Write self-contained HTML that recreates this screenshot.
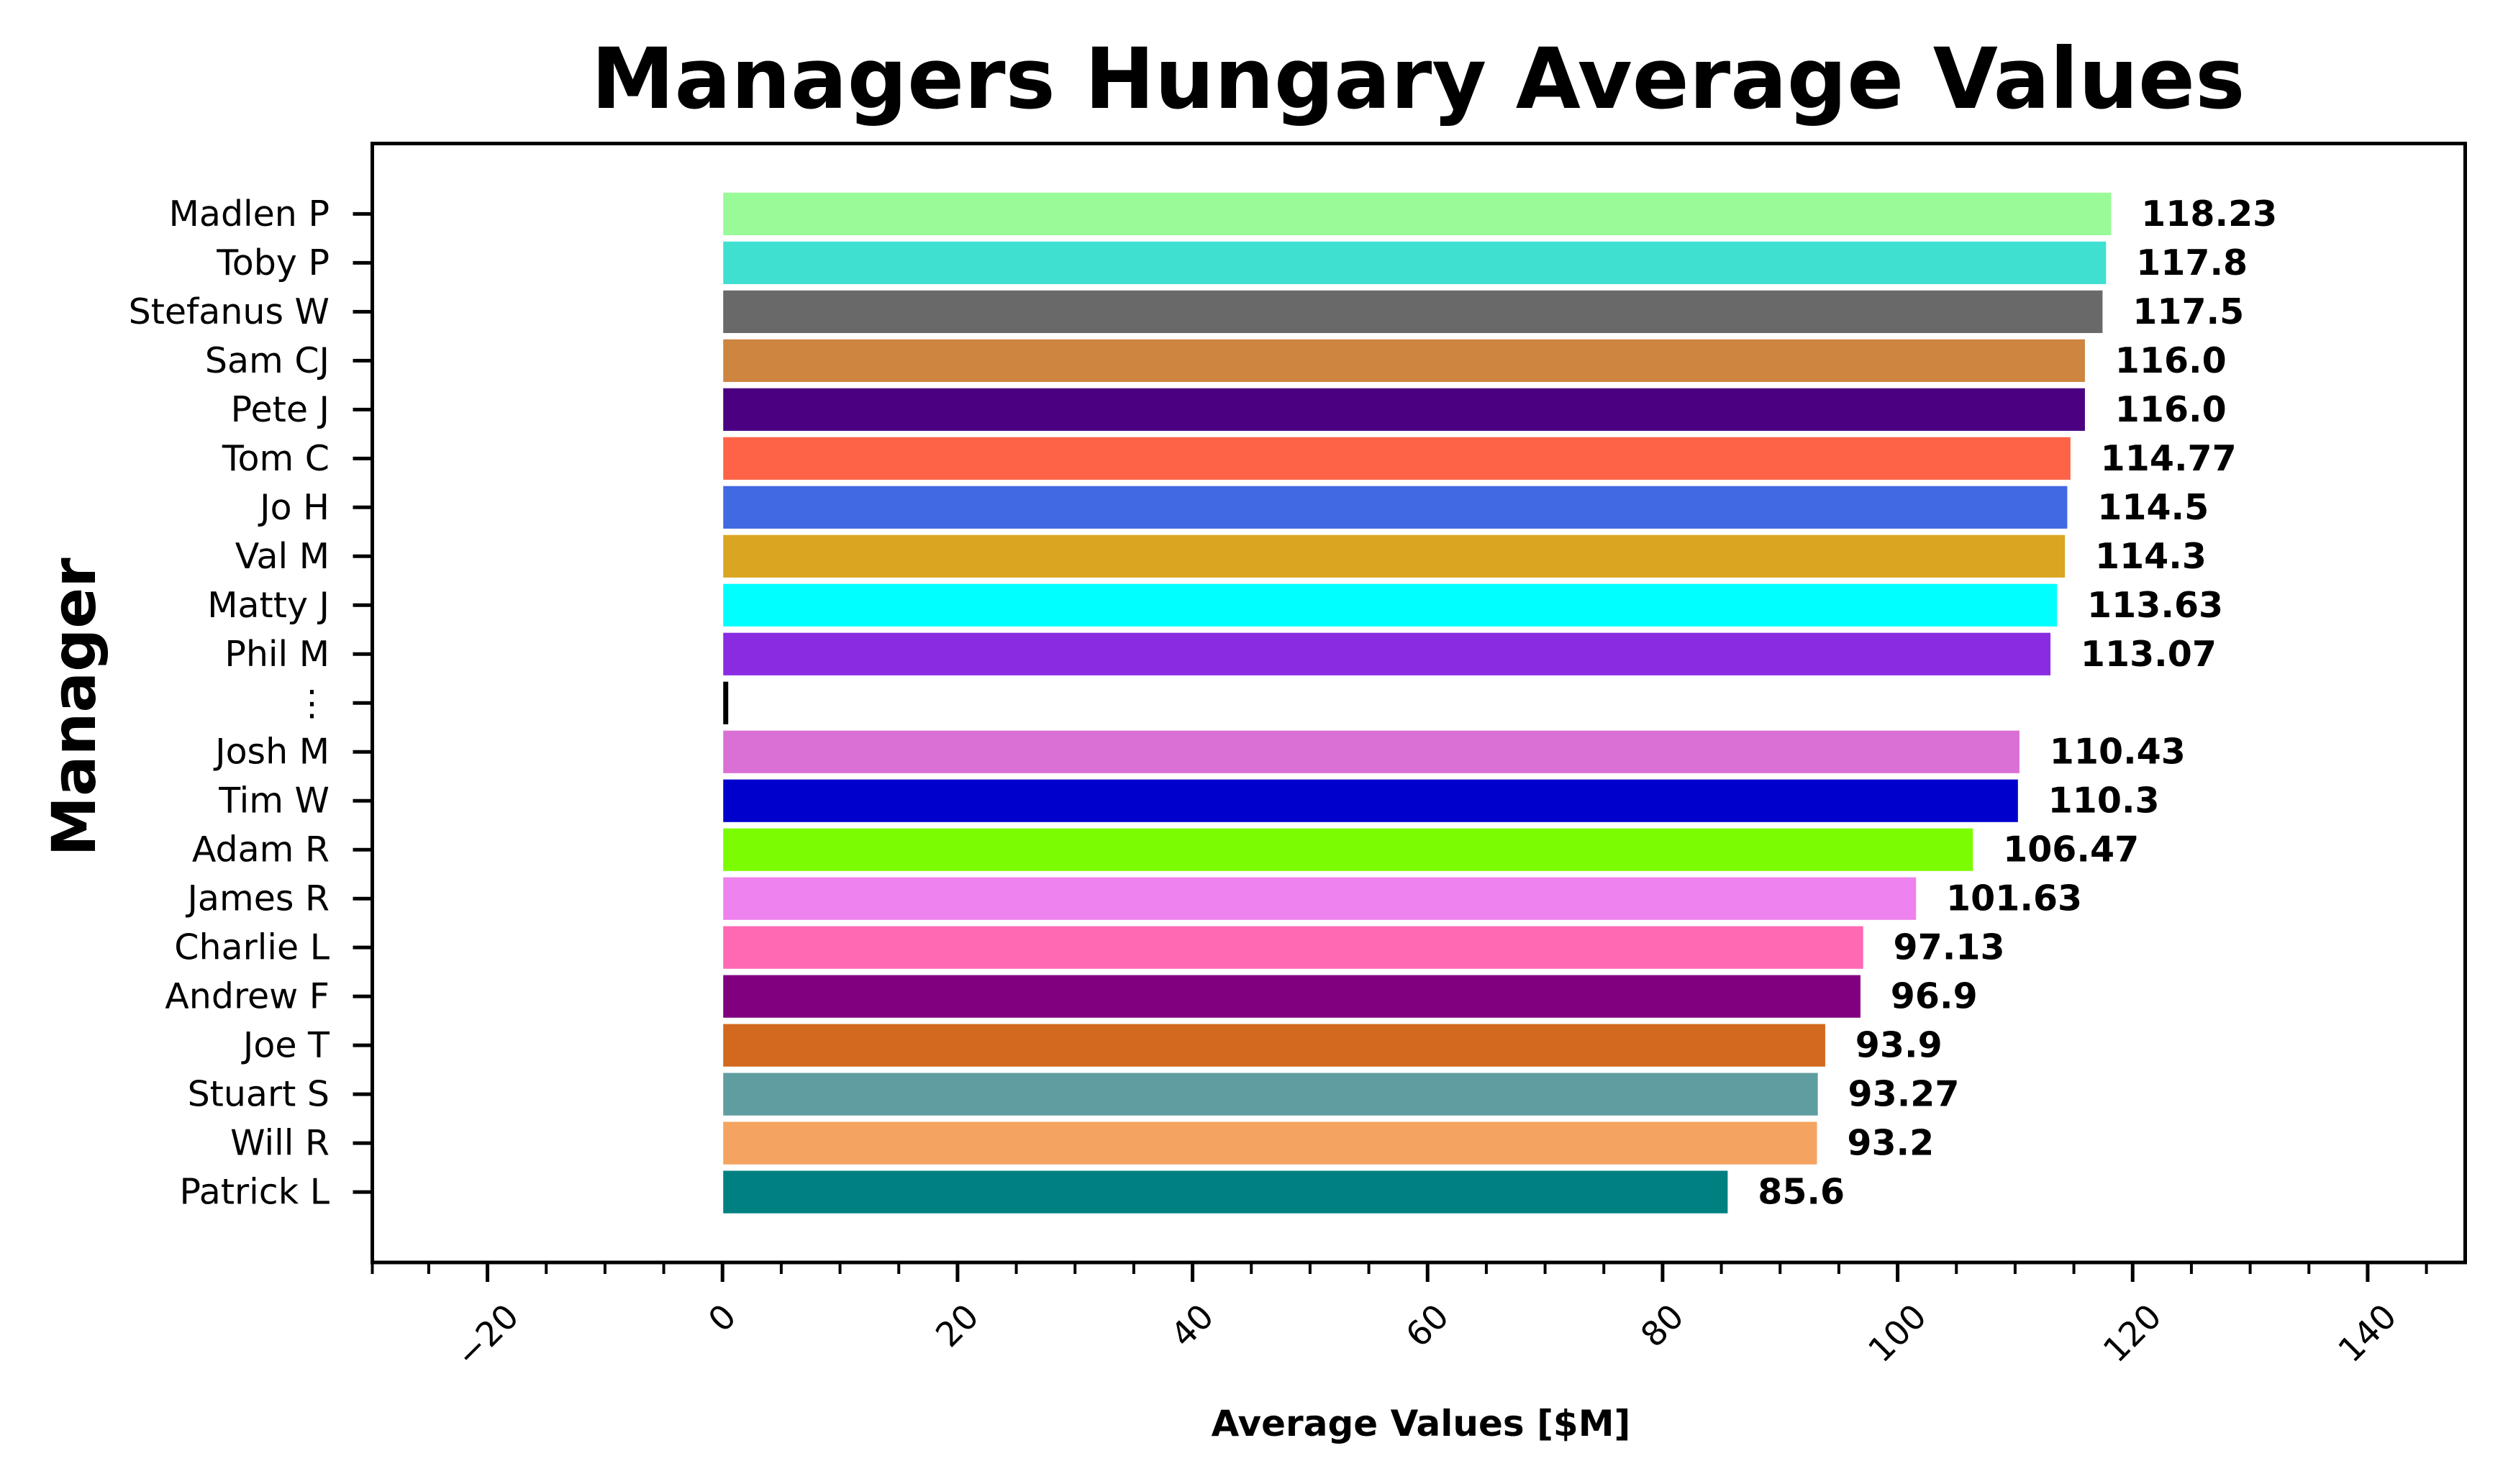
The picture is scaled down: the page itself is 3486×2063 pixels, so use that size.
<!DOCTYPE html>
<html>
<head>
<meta charset="utf-8">
<style>
  html, body { margin: 0; padding: 0; background: #ffffff; }
  svg { display: block; }
  text { font-family: "DejaVu Sans", "Liberation Sans", sans-serif; fill: #000; }
</style>
</head>
<body>
<svg id="chart" xmlns="http://www.w3.org/2000/svg" width="3486" height="2063" viewBox="0 0 3486 2063">
  <rect x="0" y="0" width="3486" height="2063" fill="#ffffff"></rect>
  <text x="1971" y="150" font-size="116.5" font-weight="bold" text-anchor="middle">Managers Hungary Average Values</text>
  <g id="bars"></g>
  <g id="value-labels"></g>
  <g id="y-axis"></g>
  <g id="x-axis"></g>
  <rect x="517.5" y="199.5" width="2909" height="1555.5" fill="none" stroke="#000" stroke-width="5"></rect>
  <text x="1975" y="1996" font-size="50" font-weight="bold" text-anchor="middle">Average Values [$M]</text>
  <text transform="translate(132,983) rotate(-90)" font-size="84" font-weight="bold" text-anchor="middle">Manager</text>
</svg>
<script>
const categories = ["Madlen P","Toby P","Stefanus W","Sam CJ","Pete J","Tom C","Jo H","Val M","Matty J","Phil M","\u22EE","Josh M","Tim W","Adam R","James R","Charlie L","Andrew F","Joe T","Stuart S","Will R","Patrick L"];
const values = [118.23,117.8,117.5,116.0,116.0,114.77,114.5,114.3,113.63,113.07,0.55,110.43,110.3,106.47,101.63,97.13,96.9,93.9,93.27,93.2,85.6];
const valueLabels = ["118.23","117.8","117.5","116.0","116.0","114.77","114.5","114.3","113.63","113.07","","110.43","110.3","106.47","101.63","97.13","96.9","93.9","93.27","93.2","85.6"];
const barColors = ["#98FB98","#40E0D0","#696969","#CD853F","#4B0082","#FF6347","#4169E1","#DAA520","#00FFFF","#8A2BE2","#000000","#DA70D6","#0000CD","#7CFC00","#EE82EE","#FF69B4","#800080","#D2691E","#5F9EA0","#F4A460","#008080"];
const xMajorTicks = [-20,0,20,40,60,80,100,120,140];
const xTickLabels = ["\u221220","0","20","40","60","80","100","120","140"];

const NS = "http://www.w3.org/2000/svg";
const plotL = 517.5, plotR = 3426.5, plotT = 199.5, plotB = 1755;
const xMin = -29.8, xMax = 148.3;
const yMin = -1.44, yMax = categories.length - 1 + 1.44;
function xs(v) { return plotL + (v - xMin) / (xMax - xMin) * (plotR - plotL); }
function ys(i) { return plotT + (i - yMin) / (yMax - yMin) * (plotB - plotT); }
const band = (plotB - plotT) / (yMax - yMin);
const barH = band * 0.9;

const barsG = document.getElementById('bars');
const labelsG = document.getElementById('value-labels');
const yG = document.getElementById('y-axis');
const xG = document.getElementById('x-axis');

categories.forEach((c, i) => {
  const v = values[i];
  const r = document.createElementNS(NS, 'rect');
  const x0 = xs(0), x1 = xs(v);
  r.setAttribute('x', Math.min(x0, x1));
  r.setAttribute('y', ys(i) - barH / 2);
  r.setAttribute('width', Math.abs(x1 - x0));
  r.setAttribute('height', barH);
  r.setAttribute('fill', barColors[i]);
  r.setAttribute('stroke', '#ffffff');
  r.setAttribute('stroke-width', '2');
  
  
  barsG.appendChild(r);

  if (valueLabels[i]) {
    const t = document.createElementNS(NS, 'text');
    t.setAttribute('x', xs(v + 2.5));
    t.setAttribute('y', ys(i));
    t.setAttribute('dominant-baseline', 'central');
    t.setAttribute('font-size', '49');
    t.setAttribute('font-weight', 'bold');
    t.textContent = valueLabels[i];
    
    
    labelsG.appendChild(t);
  }

  const tk = document.createElementNS(NS, 'line');
  tk.setAttribute('x1', plotL - 27);
  tk.setAttribute('x2', plotL);
  tk.setAttribute('y1', ys(i));
  tk.setAttribute('y2', ys(i));
  tk.setAttribute('stroke', '#000');
  tk.setAttribute('stroke-width', '5');
  
  
  yG.appendChild(tk);

  const tl = document.createElementNS(NS, 'text');
  tl.setAttribute('x', 458);
  tl.setAttribute('y', ys(i));
  tl.setAttribute('text-anchor', 'end');
  tl.setAttribute('dominant-baseline', 'central');
  tl.setAttribute('font-size', '49');
  tl.textContent = c;
  
  
  yG.appendChild(tl);
});

for (let v = -25; v <= xMax; v += 5) {
  const major = xMajorTicks.indexOf(v) >= 0;
  const l = document.createElementNS(NS, 'line');
  l.setAttribute('x1', xs(v));
  l.setAttribute('x2', xs(v));
  l.setAttribute('y1', plotB);
  l.setAttribute('y2', plotB + (major ? 27 : 16));
  l.setAttribute('stroke', '#000');
  l.setAttribute('stroke-width', major ? '5' : '4');
  
  
  xG.appendChild(l);
}
{
  const l = document.createElementNS(NS, 'line');
  l.setAttribute('x1', xs(-30) < plotL ? plotL : xs(-30));
  l.setAttribute('x2', xs(-30) < plotL ? plotL : xs(-30));
  l.setAttribute('y1', plotB);
  l.setAttribute('y2', plotB + 16);
  l.setAttribute('stroke', '#000');
  l.setAttribute('stroke-width', '4');
  
  
  xG.appendChild(l);
}

xMajorTicks.forEach((v, i) => {
  const t = document.createElementNS(NS, 'text');
  t.setAttribute('font-size', '47');
  t.setAttribute('text-anchor', 'middle');
  t.setAttribute('dominant-baseline', 'central');
  t.textContent = xTickLabels[i];
  
  
  xG.appendChild(t);
  const w = t.getComputedTextLength ? t.getComputedTextLength() : 30;
  const h = 40;
  const bh = (w + h) * Math.SQRT1_2;
  const cy = 1808 + bh / 2;
  t.setAttribute('transform', 'translate(' + xs(v) + ',' + cy + ') rotate(-45)');
});
</script>
</body>
</html>
